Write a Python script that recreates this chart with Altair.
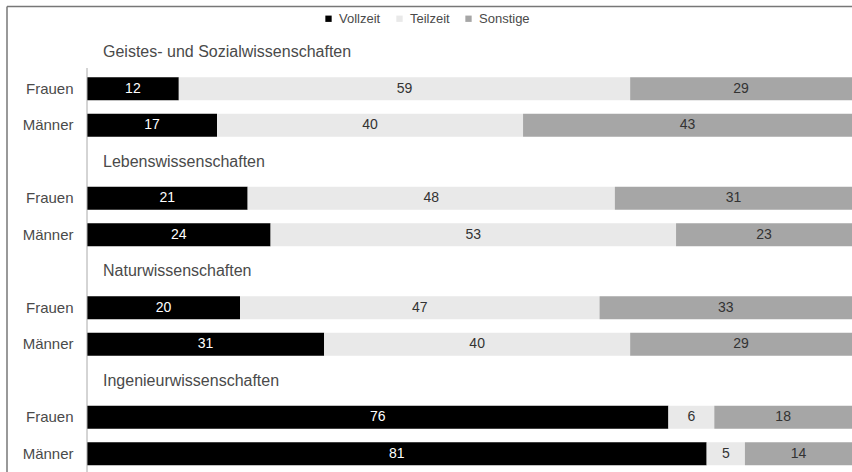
import altair as alt
import pandas as pd

groups = ["Geistes- und Sozialwissenschaften", "Lebenswissenschaften",
          "Naturwissenschaften", "Ingenieurwissenschaften"]
genders = ["Frauen", "Männer"]
categories = ["Vollzeit", "Teilzeit", "Sonstige"]
vollzeit = [12, 17, 21, 24, 20, 31, 76, 81]
teilzeit = [59, 40, 48, 53, 47, 40, 6, 5]
sonstige = [29, 43, 31, 23, 33, 29, 18, 14]

W, H = 765, 438

row_order = []
for g in groups:
    row_order += [f"{g}|T", f"{g}|Frauen", f"{g}|Männer"]

recs = []
i = 0
for g in groups:
    for s in genders:
        for k, (c, vals) in enumerate(zip(categories, [vollzeit, teilzeit, sonstige])):
            recs.append({"row": f"{g}|{s}", "cat": c, "k": k, "value": vals[i]})
        i += 1
df = pd.DataFrame(recs)
titles = pd.DataFrame({"row": [f"{g}|T" for g in groups], "name": groups})

yscale = alt.Scale(domain=row_order, paddingInner=0.37, paddingOuter=0.185)
yenc = alt.Y("row:N", scale=yscale, sort=row_order,
             axis=alt.Axis(title=None, domain=False, ticks=False, tickSize=0,
                           labelPadding=14, labelFontSize=15, labelColor="#4a4a4a",
                           labelFont="Liberation Sans",
                           labelExpr="split(datum.label, '|')[1] == 'T' ? '' : split(datum.label, '|')[1]"))
xscale = alt.Scale(domain=[0, 100], nice=False, zero=True)

base = alt.Chart(df).transform_stack(
    stack="value", as_=["x0", "x1"], groupby=["row"], sort=[alt.SortField("k")]
).transform_calculate(mid="(datum.x0 + datum.x1) / 2")

bars = base.mark_bar().encode(
    y=yenc,
    x=alt.X("x0:Q", scale=xscale, axis=None),
    x2="x1:Q",
    color=alt.Color("cat:N", scale=alt.Scale(domain=categories,
                    range=["#000000", "#e9e9e9", "#a6a6a6"]),
                    legend=alt.Legend(title=None, orient="none", direction="horizontal",
                                      legendX=235, legendY=-22, symbolType="square",
                                      symbolSize=40, symbolStrokeWidth=0,
                                      labelFontSize=13, labelColor="#4a4a4a",
                                      labelFont="Liberation Sans", columnPadding=12,
                                      symbolOffset=0)),
    order=alt.Order("k:Q"),
)

labels = base.mark_text(fontSize=14, font="Liberation Sans", baseline="middle").encode(
    y=alt.Y("row:N", scale=yscale, sort=row_order),
    x=alt.X("mid:Q", scale=xscale),
    text=alt.Text("value:Q"),
    color=alt.condition(alt.datum.cat == "Vollzeit", alt.value("white"), alt.value("#333")),
)

group_titles = alt.Chart(titles).mark_text(align="left", baseline="middle", fontSize=16,
                                           font="Liberation Sans", color="#4a4a4a").encode(
    y=alt.Y("row:N", scale=yscale, sort=row_order),
    x=alt.value(16),
    text="name:N",
)

axis_line = alt.Chart(pd.DataFrame({"a": [0]})).mark_rule(color="#aaa", strokeWidth=1).encode(
    x=alt.value(0), y=alt.value(34), y2=alt.value(H + 2))

frame_left = alt.Chart(pd.DataFrame({"a": [0]})).mark_rule(color="#777", strokeWidth=1.5).encode(
    x=alt.value(-80), y=alt.value(-27.5), y2=alt.value(H + 2))
frame_top = alt.Chart(pd.DataFrame({"a": [0]})).mark_rule(color="#777", strokeWidth=1.5).encode(
    x=alt.value(-80), x2=alt.value(W + 2), y=alt.value(-27.5))

chart = alt.layer(bars, labels, group_titles, axis_line, frame_left, frame_top).properties(
    width=W, height=H,
    padding={"left": 87, "top": 34, "right": 0, "bottom": 0},
    autosize=alt.AutoSizeParams(type="none"),
).configure(background="white").configure_view(stroke=None)

chart.save("out.html", embed_options={"renderer": "svg", "actions": False})
